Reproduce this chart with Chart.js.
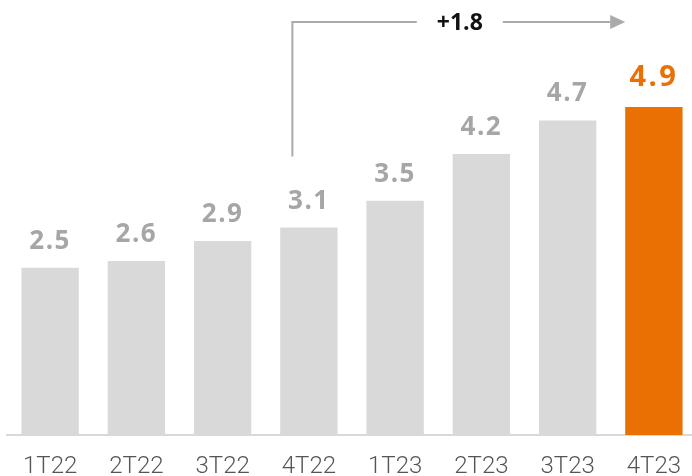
<!DOCTYPE html>
<html>
<head>
<meta charset="utf-8">
<script src="https://cdn.jsdelivr.net/npm/chart.js@4/dist/chart.umd.min.js"></script>
<style>
  html, body { margin: 0; padding: 0; background: #fff; overflow: hidden; }
  #wrap { width: 692px; height: 476px; overflow: hidden; }
</style>
</head>
<body>
<div id="wrap"><canvas id="barChart" width="697" height="476"></canvas></div>
<script>
// dados do gráfico
const quarters = ["1T22", "2T22", "3T22", "4T22", "1T23", "2T23", "3T23", "4T23"];
const values = [2.5, 2.6, 2.9, 3.1, 3.5, 4.2, 4.7, 4.9];
const valueLabels = ["2.5", "2.6", "2.9", "3.1", "3.5", "4.2", "4.7", "4.9"];
const growthLabel = "+1.8";
const growthFrom = 3; // 4T22
const growthTo = 7;   // 4T23

const GREY_BAR = "#d9d9d9";
const ORANGE = "#eb7003";
const highlight = quarters.length - 1;

const barColors = quarters.map((q, i) => (i === highlight ? ORANGE : GREY_BAR));

// rótulos de valor acima das barras + seta de crescimento
const labelsPlugin = {
  id: "valueLabels",
  afterDatasetsDraw(chart) {
    const ctx = chart.ctx;
    const bars = chart.getDatasetMeta(0).data;
    ctx.save();
    ctx.textAlign = "center";
    ctx.textBaseline = "alphabetic";
    bars.forEach((bar, i) => {
      const isHi = i === highlight;
      ctx.font = isHi ? "bold 29px 'Open Sans'" : "bold 26px 'Open Sans'";
      ctx.fillStyle = isHi ? ORANGE : "#a6a6a6";
      ctx.letterSpacing = isHi ? "2.5px" : "1.5px";
      ctx.fillText(valueLabels[i], bar.x, bar.y - (isHi ? 21 : 19));
    });

    // seta
    const from = bars[growthFrom];
    const to = bars[growthTo];
    const x0 = from.x - 16.5;
    const yBottom = from.y - 71;
    const yTop = 22;
    const tipX = to.x - to.width / 2;
    const midX = (x0 + tipX) / 2;
    ctx.strokeStyle = "#aaaaaa";
    ctx.lineWidth = 2;
    ctx.beginPath();
    ctx.moveTo(x0, yBottom);
    ctx.lineTo(x0, yTop);
    ctx.lineTo(midX - 42, yTop);
    ctx.moveTo(midX + 44, yTop);
    ctx.lineTo(tipX - 15, yTop);
    ctx.stroke();
    ctx.fillStyle = "#aaaaaa";
    ctx.beginPath();
    ctx.moveTo(tipX - 15, yTop - 7);
    ctx.lineTo(tipX, yTop);
    ctx.lineTo(tipX - 15, yTop + 7);
    ctx.closePath();
    ctx.fill();

    ctx.font = "bold 23px 'Open Sans'";
    ctx.letterSpacing = "0px";
    ctx.fillStyle = "#111111";
    ctx.textBaseline = "middle";
    ctx.fillText(growthLabel, midX + 1, yTop + 1);
    ctx.restore();
  },
};

const ctx = document.getElementById("barChart").getContext("2d");
new Chart(ctx, {
  type: "bar",
  data: {
    labels: quarters,
    datasets: [
      {
        data: values,
        backgroundColor: barColors,
        borderWidth: 0,
        categoryPercentage: 1,
        barPercentage: 0.665,
      },
    ],
  },
  options: {
    responsive: false,
    animation: false,
    layout: { padding: { left: 7, right: 0, top: 0, bottom: 0 } },
    plugins: { legend: { display: false }, tooltip: { enabled: false } },
    scales: {
      x: {
        grid: { display: false },
        border: { color: "#d9d9d9", width: 2 },
        ticks: {
          color: "#555555",
          padding: 12,
          maxRotation: 0,
          font: { family: "Roboto", size: 24, weight: "300", lineHeight: 1 },
        },
        afterFit(scale) {
          scale.height = 41;
        },
      },
      y: {
        display: false,
        min: 0,
        max: 6.5,
      },
    },
  },
  plugins: [labelsPlugin],
});
</script>
</body>
</html>
